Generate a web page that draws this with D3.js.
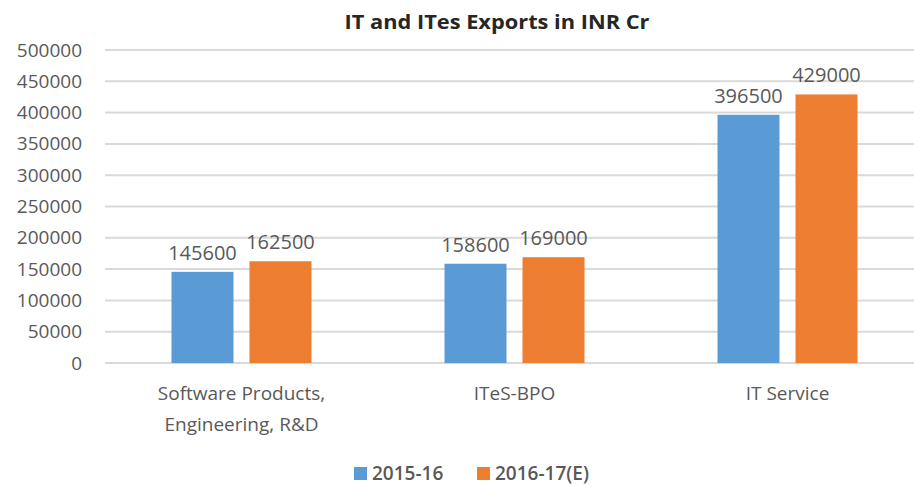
<!DOCTYPE html>
<html><head><meta charset="utf-8">
<script src="https://cdn.jsdelivr.net/npm/d3@7"></script>
<style>body{margin:0;background:#fff}svg{display:block}text{font-family:"Open Sans",sans-serif}</style>
</head><body><svg id="c" width="914" height="486"></svg>
<script>
const title = "IT and ITes Exports in INR Cr";
const categories = [["Software Products,", "Engineering, R&D"], ["ITeS-BPO"], ["IT Service"]];
const seriesNames = ["2015-16", "2016-17(E)"];
const values2015 = [145600, 158600, 396500];
const values2016 = [162500, 169000, 429000];
const yTicks = [0, 50000, 100000, 150000, 200000, 250000, 300000, 350000, 400000, 450000, 500000];
const colors = ["#5B9BD5", "#ED7D31"];

const svg = d3.select("#c");
const gray = "#595959";
const x0 = d3.scaleBand().domain(d3.range(categories.length)).range([105, 924]).paddingInner(0).paddingOuter(0);
const y = d3.scaleLinear().domain([0, 500000]).range([363, 50]);
const x1 = d3.scaleBand().domain([0, 1]).range([x0.bandwidth()/2 - 70, x0.bandwidth()/2 + 70]).paddingInner(0.205).paddingOuter(0);

// gridlines
svg.append("g").selectAll("line").data(yTicks).join("line")
  .attr("x1", 105).attr("x2", 914)
  .attr("y1", d => y(d)).attr("y2", d => y(d))
  .attr("stroke", "#D9D9D9").attr("stroke-width", 2);

// y axis
const yAxis = d3.axisLeft(y).tickValues(yTicks).tickSize(0).tickPadding(0).tickFormat(d3.format("d"));
const ya = svg.append("g").attr("transform", "translate(82,0)").call(yAxis);
ya.select(".domain").remove();
ya.selectAll("text").attr("fill", gray).style("font-size", "19px").style("font-family", "'Open Sans',sans-serif");

// bars
const data = categories.map((c, i) => ({i, vals: [values2015[i], values2016[i]]}));
const groups = svg.append("g").selectAll("g").data(data).join("g")
  .attr("transform", d => `translate(${x0(d.i)},0)`);
groups.selectAll("rect").data(d => d.vals.map((v, s) => ({v, s}))).join("rect")
  .attr("x", d => x1(d.s)).attr("width", x1.bandwidth())
  .attr("y", d => y(d.v)).attr("height", d => y(0) - y(d.v))
  .attr("fill", d => colors[d.s]);
groups.selectAll("text.lbl").data(d => d.vals.map((v, s) => ({v, s}))).join("text")
  .attr("class", "lbl")
  .attr("x", d => x1(d.s) + x1.bandwidth()/2)
  .attr("y", d => y(d.v) - 12)
  .attr("text-anchor", "middle").attr("fill", gray).style("font-size", "20px")
  .text(d => d.v);

// category labels
const xl = svg.append("g").selectAll("text").data(categories).join("text")
  .attr("x", (d, i) => x0(i) + x0.bandwidth()/2)
  .attr("y", 400).attr("text-anchor", "middle").attr("fill", gray).style("font-size", "19px");
xl.selectAll("tspan").data(d => d).join("tspan")
  .attr("x", function(){ return this.parentNode.getAttribute("x"); })
  .attr("dy", (d, j) => j === 0 ? 0 : 31).text(d => d);

// title
svg.append("text").attr("x", 497).attr("y", 29).attr("text-anchor", "middle")
  .attr("fill", "#262626").style("font-size", "19px").style("font-weight", "bold")
  .attr("textLength", 305).attr("lengthAdjust", "spacingAndGlyphs").text(title);

// legend
const leg = svg.append("g");
const legX = [354, 477];
seriesNames.forEach((n, i) => {
  leg.append("rect").attr("x", legX[i]).attr("y", 467).attr("width", 13).attr("height", 13).attr("fill", colors[i]);
  leg.append("text").attr("x", legX[i] + 18).attr("y", 480).attr("fill", gray)
    .style("font-size", "19px").style("font-weight", "600").text(n);
});
</script></body></html>
